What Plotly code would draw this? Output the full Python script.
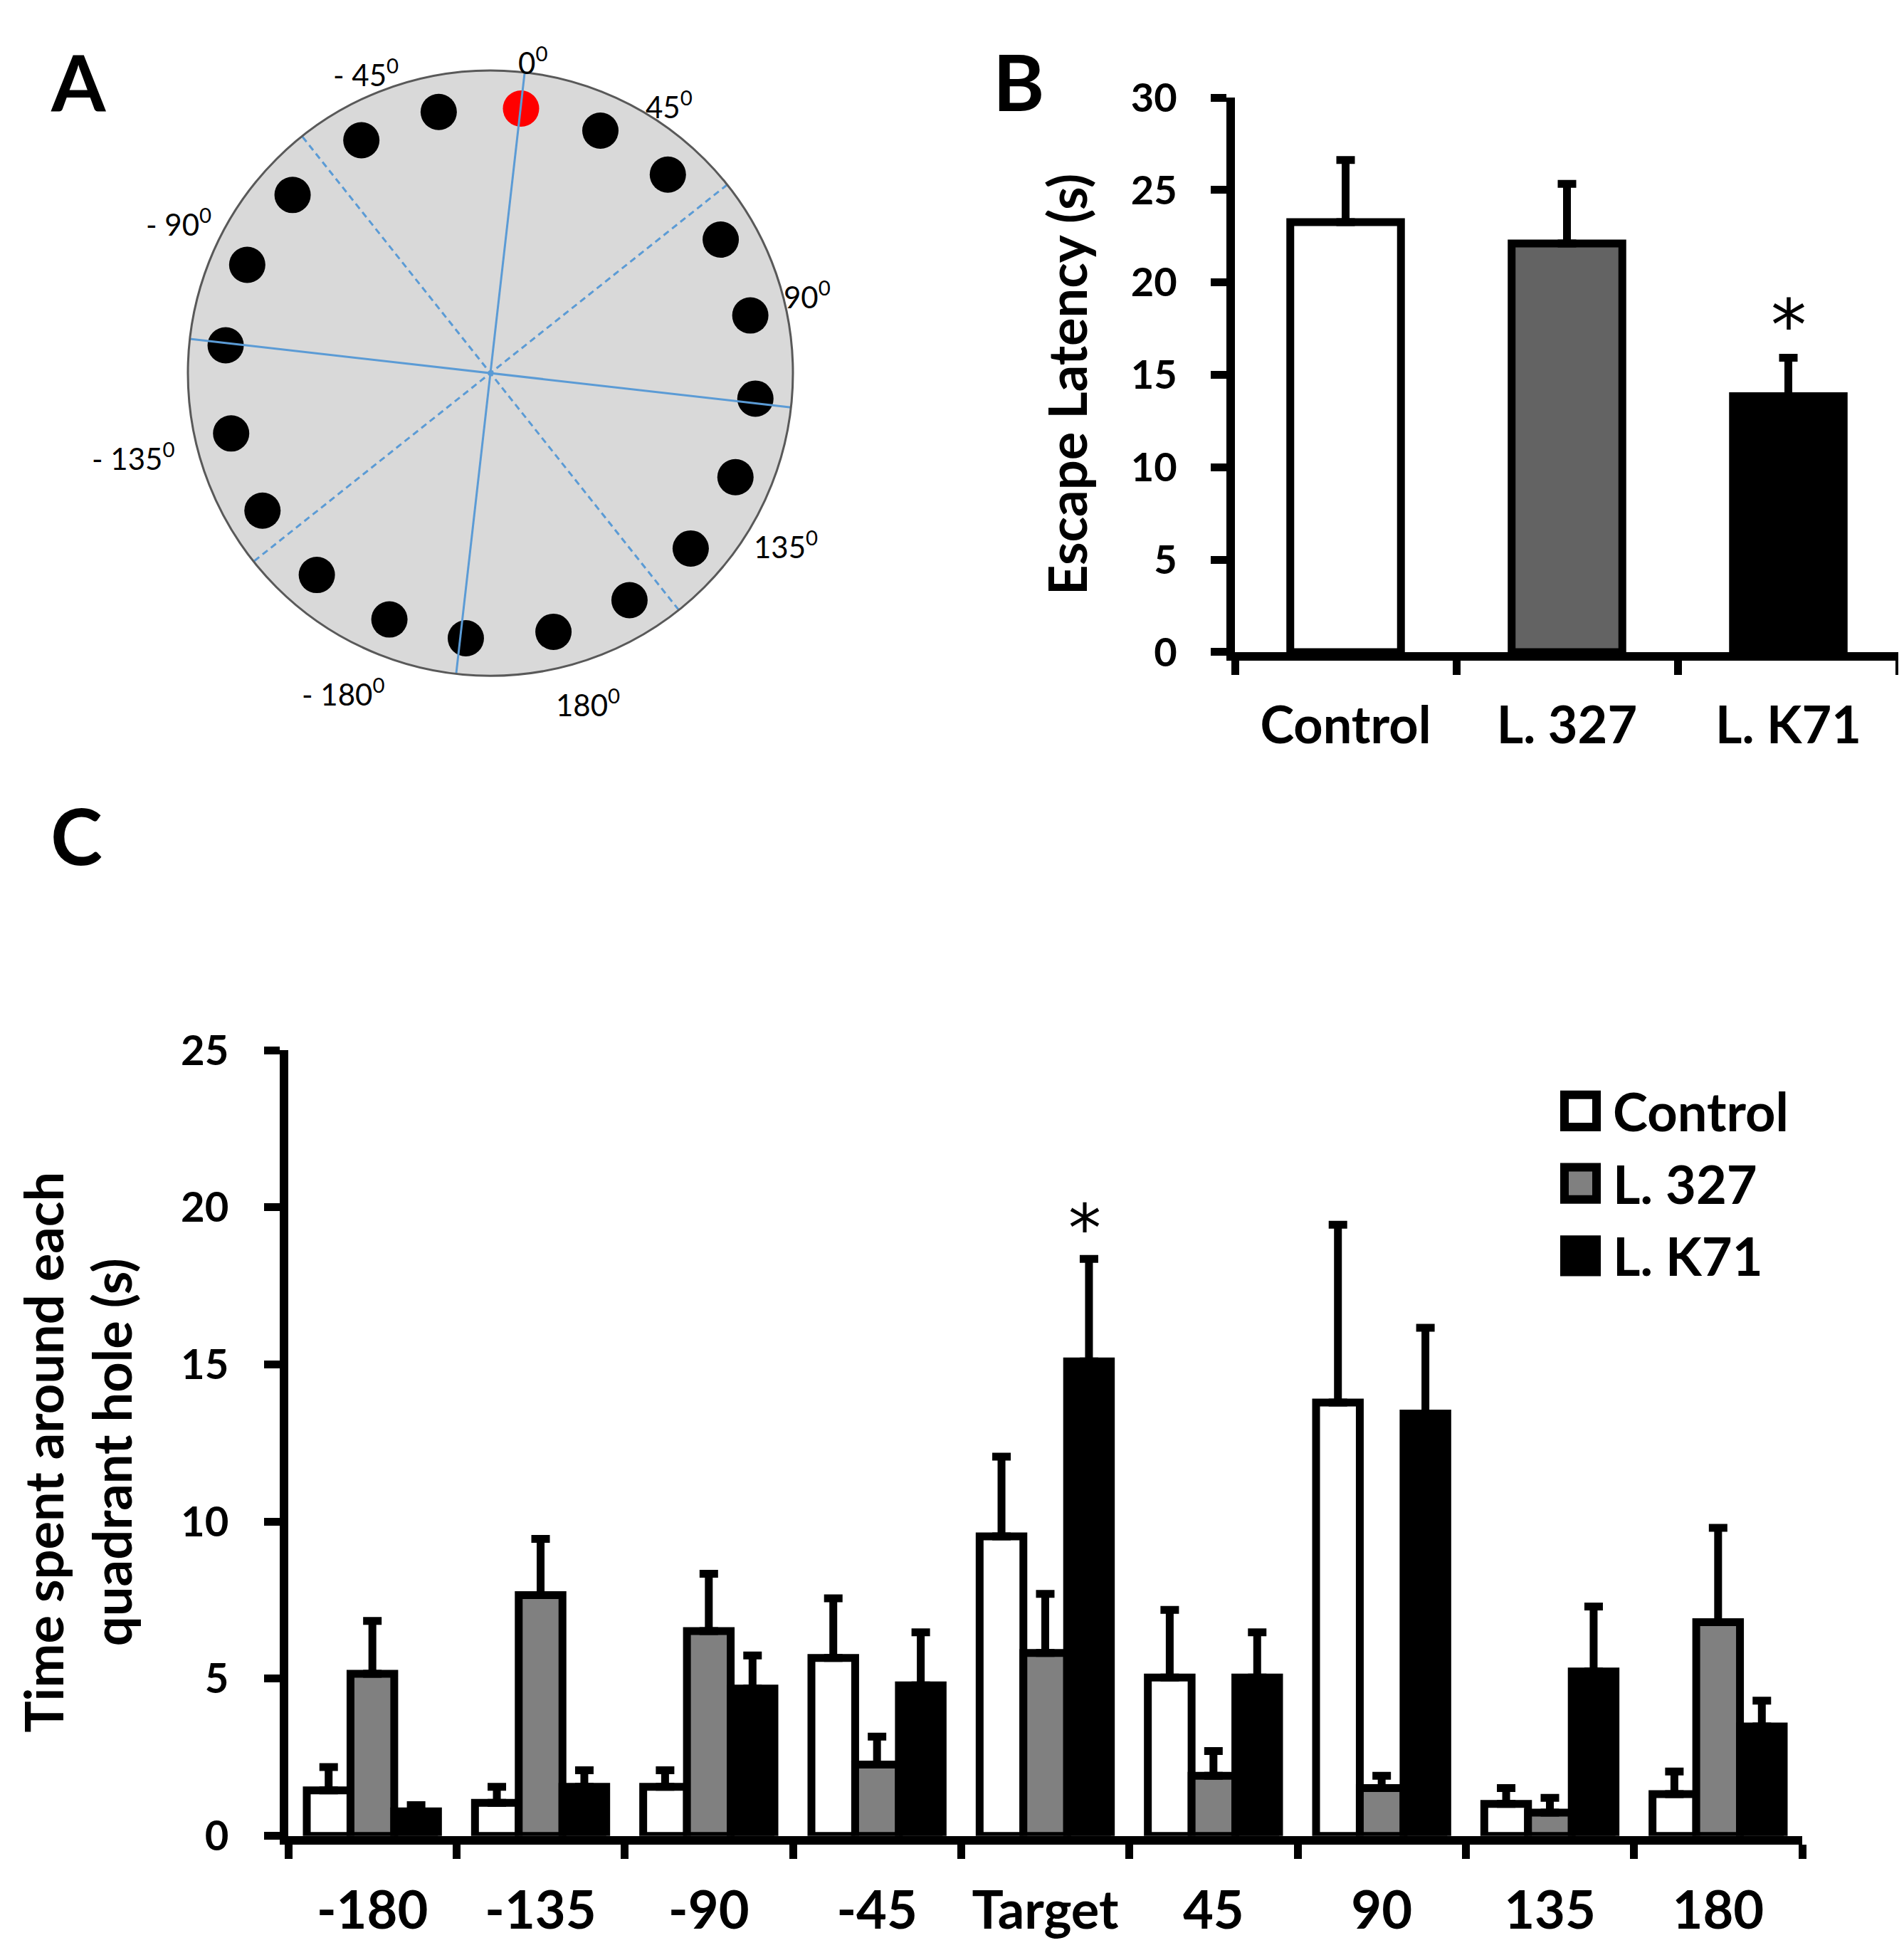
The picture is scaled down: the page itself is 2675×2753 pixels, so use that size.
import plotly.graph_objects as go

W, H = 2675, 2753
FONT = "Lato"

# ---- panel A: hole board (angles in degrees, clockwise from top) ----
hole_angles = [6.6, 24.4, 41.8, 59.9, 77.5, 95.5, 113.0, 131.2, 148.5, 166.3,
               185.3, 202.3, 220.7, 238.9, 256.9, 276.0, 294.0, 312.0, 331.0, 348.8]
target_hole = 0
hole_r = 0.88
quadrant_lines = [6.5, 51.5, 96.5, 141.5]
angle_labels = ["0", "45", "90", "135", "180", "- 180", "- 135", "- 90", "- 45"]

# ---- panel B: escape latency ----
groups = ["Control", "L. 327", "L. K71"]
latency = [23.27, 22.11, 13.85]
latency_err = [3.36, 3.23, 2.08]

# ---- panel C: time around each hole ----
holes = ["-180", "-135", "-90", "-45", "Target", "45", "90", "135", "180"]
control = [1.45, 1.05, 1.56, 5.66, 9.53, 5.04, 13.79, 1.02, 1.33]
control_err = [0.74, 0.51, 0.53, 1.90, 2.54, 2.15, 5.66, 0.50, 0.72]
l327 = [5.16, 7.66, 6.52, 2.27, 5.82, 1.91, 1.52, 0.74, 6.80]
l327_err = [1.68, 1.79, 1.82, 0.89, 1.88, 0.79, 0.39, 0.47, 3.00]
k71 = [0.78, 1.56, 4.69, 4.79, 15.10, 5.04, 13.44, 5.23, 3.48]
k71_err = [0.20, 0.53, 1.05, 1.69, 3.26, 1.44, 2.73, 2.07, 0.82]

# the page ends up drawn a bit shorter than H, so vertical placement is mapped
TOP, HEFF = 44, 2678


def px(x):
    return x / W


def py(y):
    return 1 - (y - TOP) / HEFF


fig = go.Figure()

# panel A
hole_colors = ["#ff0000" if i == target_hole else "black" for i in range(len(hole_angles))]
fig.add_trace(go.Scatterpolar(r=[hole_r] * len(hole_angles), theta=hole_angles, mode="markers",
                              marker=dict(size=51, color=hole_colors), showlegend=False))
for i, a in enumerate(quadrant_lines):
    fig.add_trace(go.Scatterpolar(r=[1, 1], theta=[a, a + 180], mode="lines",
                                  line=dict(color="#5b9bd5", width=3,
                                            dash="solid" if i % 2 == 0 else "9px,6px"),
                                  showlegend=False))

# panel B
fig.add_trace(go.Bar(x=groups, y=latency, width=0.5, xaxis="x", yaxis="y",
                     marker=dict(color=["white", "#636363", "black"],
                                 line=dict(color="black", width=11)),
                     error_y=dict(type="data", symmetric=False, array=latency_err,
                                  arrayminus=[0] * 3, color="black", thickness=11, width=13),
                     showlegend=False))

# panel C
series = [("Control", control, control_err, "white"),
          ("L. 327", l327, l327_err, "#808080"),
          ("L. K71", k71, k71_err, "black")]
for name, vals, errs, col in series:
    fig.add_trace(go.Bar(x=holes, y=vals, name=name, xaxis="x2", yaxis="y2",
                         marker=dict(color=col, line=dict(color="black", width=11)),
                         error_y=dict(type="data", symmetric=False, array=errs,
                                      arrayminus=[0] * len(vals), color="black",
                                      thickness=11, width=13),
                         showlegend=False))

axis_common = dict(showline=True, linecolor="black", ticks="outside", tickcolor="black",
                   showgrid=False, zeroline=False)

fig.update_layout(
    width=W, height=H, margin=dict(l=0, r=0, t=0, b=0),
    paper_bgcolor="white", plot_bgcolor="white",
    barmode="group", bargap=0.22, bargroupgap=0,
    font=dict(family=FONT, color="black"),
    polar=dict(domain=dict(x=[px(681 - 425), px(681 + 425)], y=[py(522 + 425), py(522 - 425)]),
               bgcolor="#d9d9d9",
               radialaxis=dict(visible=False, range=[0, 1]),
               angularaxis=dict(rotation=90, direction="clockwise", showgrid=False,
                                showticklabels=False, ticks="", showline=True,
                                linecolor="#595959", linewidth=3)),
    xaxis=dict(domain=[px(1727), px(2660)], anchor="y", type="category", tickson="boundaries",
               ticklen=20, tickwidth=11, linewidth=12, ticklabelstandoff=30,
               tickfont=dict(family=FONT, size=72, weight="bold"), **axis_common),
    yaxis=dict(domain=[py(913), py(136)], anchor="x", range=[0, 30], dtick=5,
               ticklen=22, tickwidth=11, linewidth=12, ticklabelstandoff=36,
               tickfont=dict(family=FONT, size=56, weight="bold"), **axis_common),
    xaxis2=dict(domain=[px(397), px(2524)], anchor="y2", type="category", tickson="boundaries",
                ticklen=20, tickwidth=11, linewidth=12, ticklabelstandoff=30,
                tickfont=dict(family=FONT, size=74, weight="bold"), **axis_common),
    yaxis2=dict(domain=[py(2572), py(1471)], anchor="x2", range=[0, 25], dtick=5,
                ticklen=22, tickwidth=11, linewidth=12, ticklabelstandoff=38,
                tickfont=dict(family=FONT, size=58, weight="bold"), **axis_common),
)

ann = []
# panel letters (A and B hang from the top edge so they are not clipped)
for letter, lx in zip("AB", [102, 1423]):
    ann.append(dict(text=letter, x=px(lx), y=1, xref="paper", yref="paper",
                    showarrow=False, xanchor="center", yanchor="top",
                    font=dict(family=FONT, size=110, weight="bold")))
ann.append(dict(text="C", x=px(100), y=py(1168), xref="paper", yref="paper",
                showarrow=False, xanchor="center", yanchor="middle",
                font=dict(family=FONT, size=110, weight="bold")))
# angle labels around the board
label_xy = [(740, 84), (932, 146), (1126, 412), (1096, 762), (818, 984),
            (474, 969), (179, 639), (243, 310), (506, 101)]
for txt, (lx, ly) in zip(angle_labels, label_xy):
    ann.append(dict(text=txt + "<sup>0</sup>", x=px(lx), y=py(ly), xref="paper", yref="paper",
                    showarrow=False, xanchor="center", yanchor="middle",
                    font=dict(family=FONT, size=42)))
# axis titles
ann.append(dict(text="Escape Latency (s)", x=px(1490), y=py(538), xref="paper", yref="paper",
                textangle=-90, showarrow=False, xanchor="center", yanchor="middle",
                font=dict(family=FONT, size=74, weight="bold")))
ann.append(dict(text="Time spent around each<br>quadrant hole (s)", x=px(100), y=py(2034),
                xref="paper", yref="paper", textangle=-90, showarrow=False,
                xanchor="center", yanchor="middle",
                font=dict(family=FONT, size=74, weight="bold")))
# significance marks
ann.append(dict(text="*", x="L. K71", y=18.3, xref="x", yref="y", yshift=-17, showarrow=False,
                font=dict(family="DejaVu Sans", size=100)))
ann.append(dict(text="*", x="Target", y=19.7, xref="x2", yref="y2", xshift=55, yshift=-17,
                showarrow=False, font=dict(family="DejaVu Sans", size=92)))

# legend for panel C
shapes = []
for i, (name, vals, errs, col) in enumerate(series):
    cy = 1556 + 101.5 * i
    shapes.append(dict(type="rect", xref="paper", yref="paper",
                       x0=px(2190), x1=px(2235), y0=py(cy + 22.5), y1=py(cy - 22.5),
                       fillcolor=col, line=dict(color="black", width=12)))
    ann.append(dict(text=name, x=px(2256), y=py(cy), xref="paper", yref="paper",
                    showarrow=False, xanchor="left", yanchor="middle",
                    font=dict(family=FONT, size=74, weight="bold")))

fig.update_layout(annotations=ann, shapes=shapes)
fig.write_html("out.html")
